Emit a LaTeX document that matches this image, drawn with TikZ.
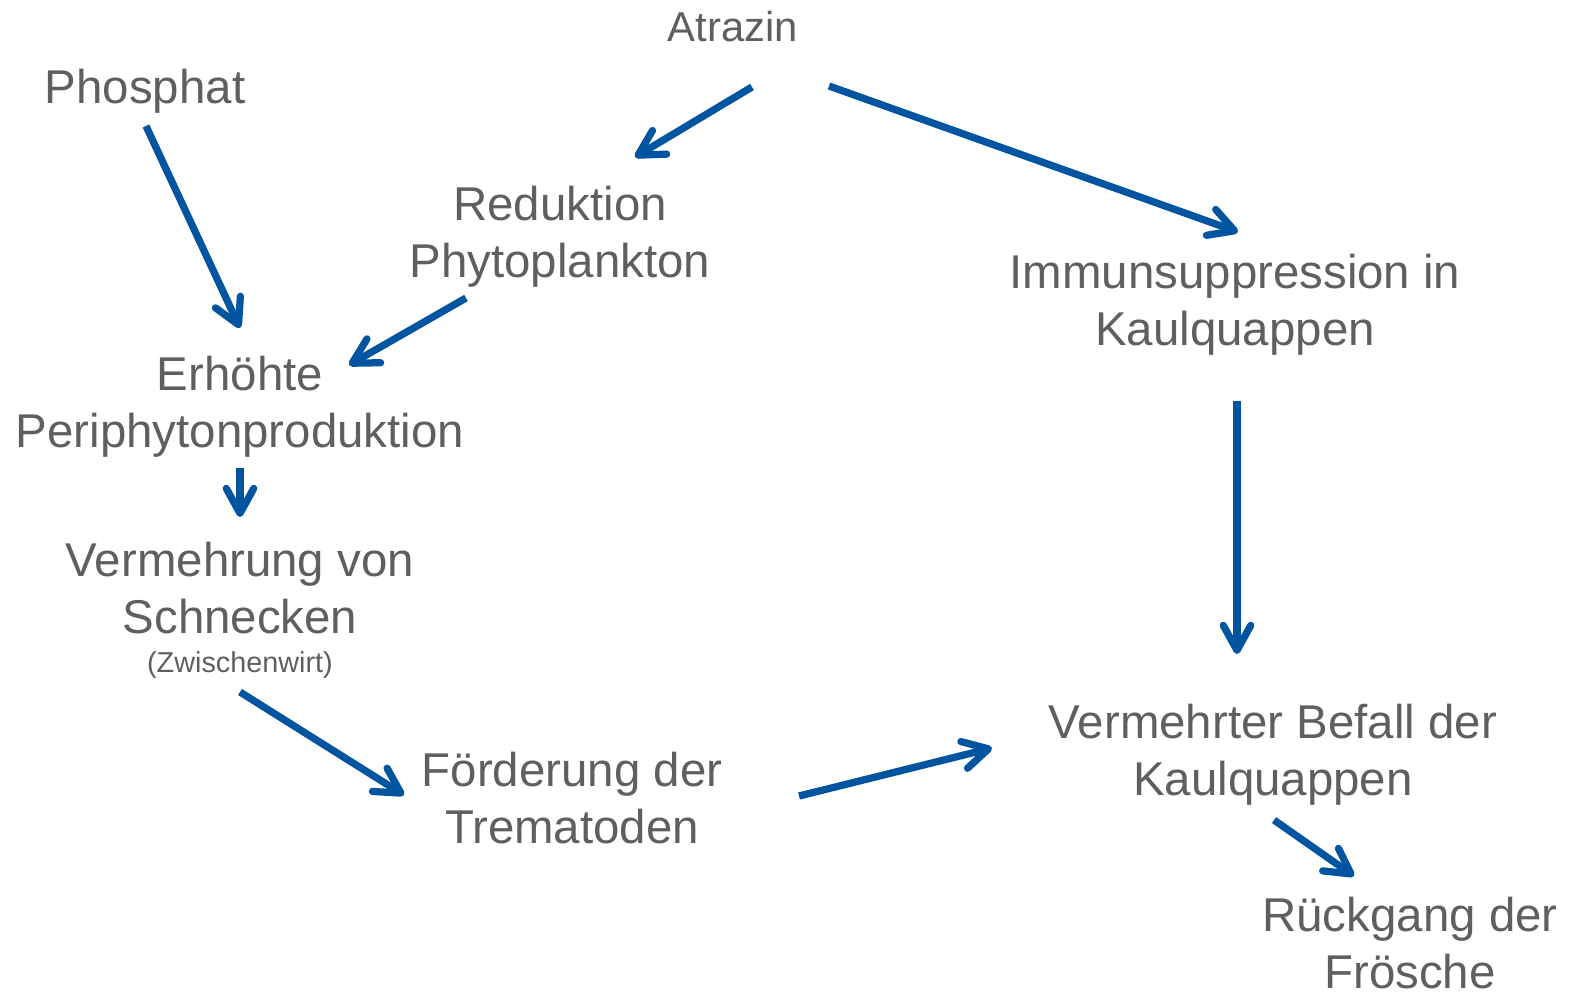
\documentclass[tikz,border=0pt]{standalone}
\usepackage{fontspec}
\setmainfont{Liberation Sans}
\usetikzlibrary{arrows.meta}

\definecolor{textgrau}{RGB}{95,95,95}
\definecolor{pfeilblau}{RGB}{0,84,160}

\tikzset{
  begriff/.style={anchor=base, inner sep=0pt, align=center, text=textgrau,
    font=\fontsize{27}{32.4}\selectfont},
  pfeil/.style={draw=pfeilblau, line width=0.145cm,
    -{Straight Barb[round, length=0.5cm, width=0.55cm]}}
}

\begin{document}
\begin{tikzpicture}[x=0.02cm, y=-0.02cm]

\useasboundingbox (0,0) rectangle (1572,995);

% -------- Begriffe (base = letzte Zeile) -----------
\node [begriff, font=\fontsize{23.8}{28}\selectfont] (atrazin) at (733,41) {Atrazin};
\node [begriff] (phosphat)   at (145,103)  {Phosphat};
\node [begriff] (reduktion)  at (560,277)  {Reduktion\\Phytoplankton};
\node [begriff] (immun)      at (1235,345) {Immunsuppression in\\Kaulquappen};
\node [begriff] (erhoeht)    at (240,447)  {Erhöhte\\Periphytonproduktion};
\node [begriff] (vermehrung) at (240,672)  {Vermehrung von\\Schnecken\\[-10.4pt]{\fontsize{16.4}{19}\selectfont (Zwischenwirt)}};
\node [begriff] (foerderung) at (572,843)  {Förderung der\\Trematoden};
\node [begriff] (befall)     at (1273,795) {Vermehrter Befall der\\Kaulquappen};
\node [begriff] (rueckgang)  at (1410,988) {Rückgang der\\Frösche};

% -------- Pfeile -----------
\draw [pfeil] ([shift={(19,46)}]atrazin.base)     -- ([shift={(75,-120)}]reduktion.base);
\draw [pfeil] ([shift={(96,45)}]atrazin.base)     -- ([shift={(3,-113)}]immun.base);
\draw [pfeil] ([shift={(1,23)}]phosphat.base)     -- ([shift={(0,-119)}]erhoeht.base);
\draw [pfeil] ([shift={(-94,21)}]reduktion.base)  -- ([shift={(109,-82)}]erhoeht.base);
\draw [pfeil] ([shift={(0,21)}]erhoeht.base)      -- ([shift={(0,-155)}]vermehrung.base);
\draw [pfeil] ([shift={(2,56)}]immun.base)        -- ([shift={(-36,-141)}]befall.base);
\draw [pfeil] ([shift={(0,20)}]vermehrung.base)   -- ([shift={(-168,-48)}]foerderung.base);
\draw [pfeil] ([shift={(227,-47)}]foerderung.base) -- ([shift={(-281,-47)}]befall.base);
\draw [pfeil] ([shift={(1,25)}]befall.base)       -- ([shift={(-56,-112)}]rueckgang.base);

\end{tikzpicture}
\end{document}
